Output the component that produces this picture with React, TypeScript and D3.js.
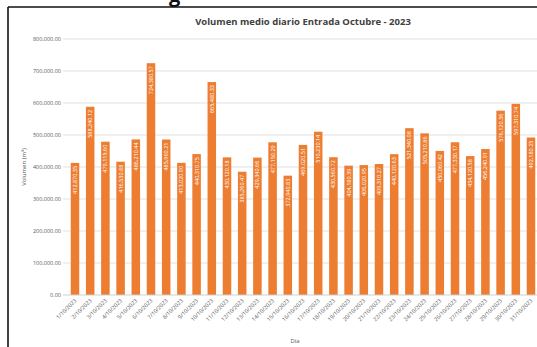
import React from "react";
import * as d3 from "d3";

const days = Array.from({ length: 31 }, (_, i) => `${i + 1}/10/2023`);
const volumes = [
  412870.35, 588240.12, 479115.6, 416530.88, 486210.44, 724380.57, 485960.21, 413020.9,
  440310.75, 665480.33, 430120.18, 385260.47, 429340.66, 477150.29, 372940.83, 469020.51,
  510230.14, 430560.72, 404180.39, 406020.95, 409310.27, 440120.63, 521340.08, 505210.86,
  450060.42, 477330.17, 434120.58, 456240.91, 576120.36, 597310.74, 492180.25,
];
const yTicks = [0, 100000, 200000, 300000, 400000, 500000, 600000, 700000, 800000];
const title = "Volumen medio diario Entrada Octubre - 2023";
const xTitle = "Día";
const yTitle = "Volumen (m³)";

const W = 537;
const H = 347;
const plotLeft = 67.4;
const plotRight = 538.6;
const plotTop = 39;
const plotBottom = 295;
const FONT = "'Open Sans', 'Liberation Sans', sans-serif";

export default function App() {
  const x = d3
    .scaleBand<string>()
    .domain(days)
    .range([plotLeft, plotRight])
    .paddingInner(0.44)
    .paddingOuter(0.22);
  const y = d3.scaleLinear().domain([0, 800000]).range([plotBottom, plotTop]);
  const fmt = d3.format(",.2f");
  const bw = x.bandwidth();

  return (
    <div style={{ position: "absolute", left: 0, top: 0, width: W, height: H, overflow: "hidden", background: "#fff" }}>
      <svg width={W} height={H} style={{ display: "block" }} fontFamily={FONT}>
        <rect x={0} y={0} width={W} height={H} fill="#fff" />
        <text x={169} y={2} fontSize={20} fontWeight="bold" fill="#111">g</text>
        {/* outer frame */}
        <line x1={8} x2={W} y1={7} y2={7} stroke="#111" strokeWidth={1.6} />
        <line x1={8} x2={8} y1={7} y2={H} stroke="#111" strokeWidth={1.6} />
        {/* title */}
        <text x={303} y={25} textAnchor="middle" fontSize={9.5} fontWeight="bold" fill="#404040">
          {title}
        </text>
        {/* gridlines */}
        {yTicks.map((t) => (
          <g key={t}>
            <line x1={63} x2={W} y1={y(t)} y2={y(t)} stroke="#d9d9d9" strokeWidth={0.8} />
            <text x={61} y={y(t) + 2} textAnchor="end" fontSize={5.5} fill="#595959">
              {fmt(t)}
            </text>
          </g>
        ))}
        {/* bars */}
        {days.map((d, i) => {
          const bx = x(d)!;
          const top = y(volumes[i]);
          const cx = bx + bw / 2;
          return (
            <g key={d}>
              <rect x={bx} y={top} width={bw} height={plotBottom - top} fill="#ed7d31" />
              <text
                transform={`translate(${cx + 2},${top + 3}) rotate(-90)`}
                textAnchor="end"
                fontSize={5.5}
                fill="#fff"
              >
                {fmt(volumes[i])}
              </text>
              <text
                transform={`translate(${cx + 2},${plotBottom + 6}) rotate(-45)`}
                textAnchor="end"
                fontSize={5.5}
                fill="#595959"
              >
                {d}
              </text>
            </g>
          );
        })}
        <line x1={63} x2={W} y1={plotBottom} y2={plotBottom} stroke="#d9d9d9" strokeWidth={0.8} />
        {/* axis titles */}
        <text x={295} y={343} textAnchor="middle" fontSize={6} fill="#595959">
          {xTitle}
        </text>
        <text transform={`translate(26,${(plotTop + plotBottom) / 2}) rotate(-90)`} textAnchor="middle" fontSize={6} fill="#595959">
          {yTitle}
        </text>
      </svg>
    </div>
  );
}
